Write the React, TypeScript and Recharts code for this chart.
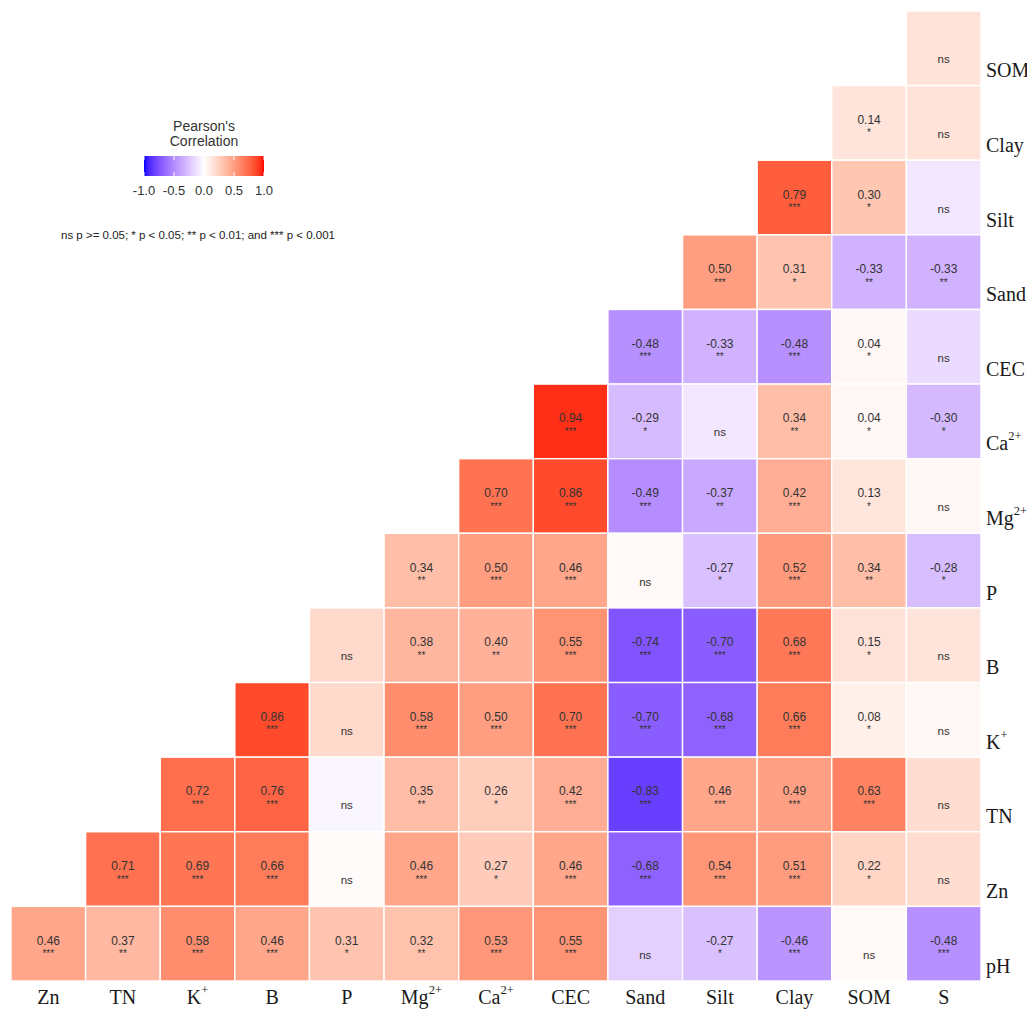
import React from "react"
import { ScatterChart, Scatter, XAxis, YAxis } from "recharts"

// Variable names (columns left to right, rows top to bottom)
const cols = ["Zn", "TN", "K+", "B", "P", "Mg2+", "Ca2+", "CEC", "Sand", "Silt", "Clay", "SOM", "S"]
const rows = ["SOM", "Clay", "Silt", "Sand", "CEC", "Ca2+", "Mg2+", "P", "B", "K+", "TN", "Zn", "pH"]

const corr: number[][] = [
  [0.15],
  [0.14, 0.15],
  [0.79, 0.3, -0.1],
  [0.5, 0.31, -0.33, -0.33],
  [-0.48, -0.33, -0.48, 0.04, -0.15],
  [0.94, -0.29, -0.1, 0.34, 0.04, -0.3],
  [0.7, 0.86, -0.49, -0.37, 0.42, 0.13, 0.04],
  [0.34, 0.5, 0.46, 0.03, -0.27, 0.52, 0.34, -0.28],
  [0.2, 0.38, 0.4, 0.55, -0.74, -0.7, 0.68, 0.15, 0.14],
  [0.86, 0.2, 0.58, 0.5, 0.7, -0.7, -0.68, 0.66, 0.08, 0.04],
  [0.72, 0.76, -0.04, 0.35, 0.26, 0.42, -0.83, 0.46, 0.49, 0.63, 0.18],
  [0.71, 0.69, 0.66, 0.02, 0.46, 0.27, 0.46, -0.68, 0.54, 0.51, 0.22, 0.18],
  [0.46, 0.37, 0.58, 0.46, 0.31, 0.32, 0.53, 0.55, -0.2, -0.27, -0.46, 0.03, -0.48],
]

const sig: string[][] = [
  ["ns"],
  ["*", "ns"],
  ["***", "*", "ns"],
  ["***", "*", "**", "**"],
  ["***", "**", "***", "*", "ns"],
  ["***", "*", "ns", "**", "*", "*"],
  ["***", "***", "***", "**", "***", "*", "ns"],
  ["**", "***", "***", "ns", "*", "***", "**", "*"],
  ["ns", "**", "**", "***", "***", "***", "***", "*", "ns"],
  ["***", "ns", "***", "***", "***", "***", "***", "***", "*", "ns"],
  ["***", "***", "ns", "**", "*", "***", "***", "***", "***", "***", "ns"],
  ["***", "***", "***", "ns", "***", "*", "***", "***", "***", "***", "*", "ns"],
  ["***", "**", "***", "***", "*", "**", "***", "***", "ns", "*", "***", "ns", "***"],
]

const legendTicks = [-1, -0.5, 0, 0.5, 1]

const points = corr.flatMap((vals, ri) =>
  vals.map((r, k) => ({
    x: cols.length - vals.length + k + 1,
    y: ri + 1,
    r,
    sig: sig[ri][k],
  }))
)

// --- colour: blue / white / red, interpolated in Lab like ggplot's gradient2 ---
const toLin = (c: number) => {
  c /= 255
  return c <= 0.04045 ? c / 12.92 : Math.pow((c + 0.055) / 1.055, 2.4)
}
const fromLin = (c: number) => {
  const v = c <= 0.0031308 ? 12.92 * c : 1.055 * Math.pow(c, 1 / 2.4) - 0.055
  return Math.round(Math.min(1, Math.max(0, v)) * 255)
}
const WX = 0.95047, WZ = 1.08883
function rgbToLab([r, g, b]: number[]) {
  const R = toLin(r), G = toLin(g), B = toLin(b)
  const X = (0.4124 * R + 0.3576 * G + 0.1805 * B) / WX
  const Y = 0.2126 * R + 0.7152 * G + 0.0722 * B
  const Z = (0.0193 * R + 0.1192 * G + 0.9505 * B) / WZ
  const f = (t: number) => (t > 0.008856 ? Math.cbrt(t) : 7.787 * t + 16 / 116)
  const fx = f(X), fy = f(Y), fz = f(Z)
  return [116 * fy - 16, 500 * (fx - fy), 200 * (fy - fz)]
}
function labToHex([L, a, b]: number[]) {
  const fy = (L + 16) / 116
  const fx = fy + a / 500
  const fz = fy - b / 200
  const inv = (t: number) => (t * t * t > 0.008856 ? t * t * t : (t - 16 / 116) / 7.787)
  const X = inv(fx) * WX, Y = inv(fy), Z = inv(fz) * WZ
  const R = 3.2406 * X - 1.5372 * Y - 0.4986 * Z
  const G = -0.9689 * X + 1.8758 * Y + 0.0415 * Z
  const B = 0.0557 * X - 0.204 * Y + 1.057 * Z
  return "#" + [R, G, B].map((c) => fromLin(c).toString(16).padStart(2, "0")).join("")
}
const LOW = rgbToLab([0, 0, 255])
const MID = rgbToLab([255, 255, 255])
const HIGH = rgbToLab([255, 0, 0])
const corrColor = (v: number) => {
  const end = v < 0 ? LOW : HIGH
  const t = Math.min(1, Math.abs(v))
  return labToHex(MID.map((m, i) => m + (end[i] - m) * t))
}

const W = 1027
const H = 1002
const PLOT = 970
const CELL = PLOT / 13
const sans = "'Liberation Sans', Arial, sans-serif"
const serif = "'Liberation Serif', 'Times New Roman', serif"

const splitLabel = (s: string) => {
  const m = s.match(/^([A-Za-z]+)(\d?\+)$/)
  return m ? [m[1], m[2]] : [s, ""]
}

const VarLabel = ({ x, y, label, anchor }: any) => {
  const [base, sup] = splitLabel(label)
  return (
    <text x={x} y={y} textAnchor={anchor} fontFamily={serif} fontSize={20} fill="#1a1a1a" dominantBaseline="central">
      {base}
      {sup && (
        <tspan dy={-7} fontSize={12.5}>
          {sup}
        </tspan>
      )}
    </text>
  )
}

const XTick = (props: any) => {
  const { x, y, payload } = props
  return <VarLabel x={x} y={y + 8} label={cols[payload.value - 1]} anchor="middle" />
}

const YTick = (props: any) => {
  const { x, y, payload } = props
  return <VarLabel x={x - 3} y={y + 22} label={rows[payload.value - 1]} anchor="start" />
}

const Tile = (props: any) => {
  const { cx, cy, payload } = props
  const ns = payload.sig === "ns"
  return (
    <g>
      <rect
        x={cx - CELL / 2}
        y={cy - CELL / 2}
        width={CELL}
        height={CELL}
        fill={corrColor(payload.r)}
        stroke="#ffffff"
        strokeWidth={1.4}
      />
      {ns ? (
        <text x={cx} y={cy + 11} textAnchor="middle" dominantBaseline="central" fontFamily={sans} fontSize={11.5} fill="#333">
          ns
        </text>
      ) : (
        <>
          <text x={cx} y={cy - 3} textAnchor="middle" dominantBaseline="central" fontFamily={sans} fontSize={12} fill="#333">
            {payload.r.toFixed(2)}
          </text>
          <text x={cx} y={cy + 10} textAnchor="middle" dominantBaseline="central" fontFamily={sans} fontSize={10} fill="#333">
            {payload.sig}
          </text>
        </>
      )}
    </g>
  )
}

const BAR_X = 136
const BAR_W = 120
const BAR_Y = 148
const BAR_H = 20
const barX = (v: number) => BAR_X + ((v + 1) / 2) * BAR_W

const Legend = () => {
  const stops = Array.from({ length: 41 }, (_, i) => -1 + i * 0.05)
  return (
    <svg width={400} height={260} style={{ position: "absolute", left: 0, top: 0 }}>
      <defs>
        <linearGradient id="corrGrad" x1="0" x2="1" y1="0" y2="0">
          {stops.map((v, i) => (
            <stop key={i} offset={`${(i / 40) * 100}%`} stopColor={corrColor(v)} />
          ))}
        </linearGradient>
      </defs>
      <text x={196} y={118} textAnchor="middle" dominantBaseline="central" fontFamily={sans} fontSize={14} fill="#333">
        Pearson's
      </text>
      <text x={196} y={133} textAnchor="middle" dominantBaseline="central" fontFamily={sans} fontSize={14} fill="#333">
        Correlation
      </text>
      <rect x={BAR_X} y={BAR_Y} width={BAR_W} height={BAR_H} fill="url(#corrGrad)" />
      {legendTicks.map((v) => (
        <g key={v}>
          <line x1={barX(v)} x2={barX(v)} y1={BAR_Y} y2={BAR_Y + 4} stroke="#fff" strokeWidth={1} />
          <line x1={barX(v)} x2={barX(v)} y1={BAR_Y + BAR_H - 4} y2={BAR_Y + BAR_H} stroke="#fff" strokeWidth={1} />
          <text
            x={barX(v)}
            y={BAR_Y + BAR_H + 14}
            textAnchor="middle"
            dominantBaseline="central"
            fontFamily={sans}
            fontSize={13}
            fill="#333"
          >
            {v.toFixed(1)}
          </text>
        </g>
      ))}
      <text x={190} y={227} textAnchor="middle" dominantBaseline="central" fontFamily={sans} fontSize={11.5} fill="#222">
        ns p &gt;= 0.05; * p &lt; 0.05; ** p &lt; 0.01; and *** p &lt; 0.001
      </text>
    </svg>
  )
}

export default function App() {
  const ticks = cols.map((_, i) => i + 1)
  return (
    <div style={{ position: "relative", width: W, height: H }}>
      <style>{"html, body { overflow: hidden; }"}</style>
      <ScatterChart width={W} height={H} margin={{ top: 3, right: 0, left: 3, bottom: 0 }}>
        <XAxis
          type="number"
          dataKey="x"
          domain={[0.5, 13.5]}
          ticks={ticks}
          interval={0}
          height={29}
          axisLine={false}
          tickLine={false}
          tick={<XTick />}
        />
        <YAxis
          type="number"
          dataKey="y"
          domain={[0.5, 13.5]}
          ticks={ticks}
          interval={0}
          reversed
          orientation="right"
          width={54}
          axisLine={false}
          tickLine={false}
          tick={<YTick />}
        />
        <Scatter data={points} shape={<Tile />} isAnimationActive={false} />
      </ScatterChart>
      <Legend />
    </div>
  )
}
